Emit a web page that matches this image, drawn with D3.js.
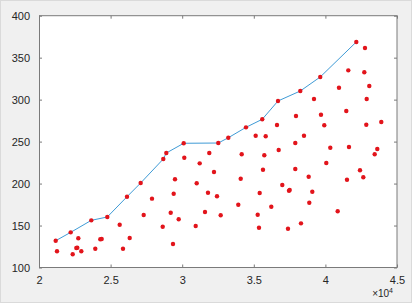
<!DOCTYPE html>
<html>
  <head>
    <meta charset="utf-8">
    <script src="https://d3js.org/d3.v7.min.js"></script>
    <style>
      body { margin: 0; background: #f0f0f0; }
      .tick text { font-family: "Liberation Sans", Arial, sans-serif; font-size: 11px; fill: #262626; }
    </style>
  </head>
  <body>
    <div id="chart"></div>
<script>

// upper envelope (line + dots)
var lineX = [21166, 22214, 23652, 24770, 26145, 27100, 28680, 28890, 30105, 32520,
             33220, 34455, 35590, 36690, 38247, 39640, 42158];
var lineY = [131.9, 141.9, 156.2, 160.2, 184.3, 200.7, 229.3, 236.4, 248.0, 248.3,
             254.6, 267.0, 276.6, 298.4, 310.3, 327.0, 368.7];

// the other scatter points
var dotX = [21257, 22744, 22605, 22675, 22353, 22954, 23931, 24281, 24378, 25635,
            25866, 26334, 27311, 27891, 35132, 35831, 36738, 30146, 31892, 31222,
            34155, 35733, 32220, 29497, 31012, 34085, 35642, 29406, 31801, 32430,
            35411, 33917, 36222, 29197, 29755, 31592, 32688, 35272, 28638, 30943,
            35363, 29357, 36620, 42765, 41599, 42716, 40949, 43065, 39203, 42884,
            37946, 39692, 41459, 39922, 42855, 43903, 38505, 37897, 40342, 41647,
            43624, 43442, 40062, 37897, 38833, 42415, 42646, 41508, 36990, 37458,
            37507, 39085, 38875, 40858, 38295, 37388];
var dotY = [119.3, 134.8, 123.2, 123.6, 115.7, 119.3, 122.4, 133.6, 133.9, 151.0,
            122.4, 135.1, 162.5, 182.0, 257.0, 256.3, 240.0, 230.8, 236.4, 224.1,
            234.9, 233.7, 213.8, 205.1, 200.3, 205.8, 216.5, 187.9, 189.1, 184.8,
            188.7, 174.8, 172.4, 165.3, 157.4, 166.1, 162.2, 162.9, 148.6, 149.4,
            147.4, 128.0, 269.8, 361.5, 334.9, 332.6, 314.2, 316.2, 300.7, 300.7,
            280.5, 282.0, 286.4, 269.4, 270.1, 273.3, 257.0, 248.3, 242.7, 243.6,
            241.2, 234.9, 224.5, 217.3, 208.2, 215.8, 207.5, 204.6, 198.3, 191.5,
            192.3, 190.3, 177.2, 167.0, 152.6, 146.2];

var xTicks = [20000, 25000, 30000, 35000, 40000, 45000];
var xTickLabels = ["2", "2.5", "3", "3.5", "4", "4.5"];
var yTicks = [100, 150, 200, 250, 300, 350, 400];

function drawChart() {
  var width = 412, height = 303;
  var mLeft = 39, mRight = 397, mTop = 15.7, mBottom = 267.5;

  var svg = d3.select("#chart").append("svg")
    .attr("width", width)
    .attr("height", height)
    .style("display", "block");

  svg.append("rect")
    .attr("x", 0.5).attr("y", 0.5)
    .attr("width", width - 1).attr("height", height - 1)
    .attr("fill", "#f0f0f0")
    .attr("stroke", "#dadada");

  var x = d3.scaleLinear().domain([20000, 45000]).range([mLeft, mRight]);
  var y = d3.scaleLinear().domain([100, 400]).range([mBottom, mTop]);

  svg.append("rect")
    .attr("x", mLeft).attr("y", mTop)
    .attr("width", mRight - mLeft).attr("height", mBottom - mTop)
    .attr("fill", "white");

  function styleAxis(g) {
    g.select(".domain").remove();
    g.selectAll(".tick line").attr("stroke", "#7a7a7a");
  }

  // bottom / left with labels, ticks pointing in
  svg.append("g")
    .attr("transform", "translate(0," + mBottom + ")")
    .call(d3.axisBottom(x).tickValues(xTicks).tickSizeInner(-3).tickSizeOuter(0)
      .tickPadding(9).tickFormat(function (d, i) { return xTickLabels[i]; }))
    .call(styleAxis);

  svg.append("g")
    .attr("transform", "translate(" + mLeft + ",0)")
    .call(d3.axisLeft(y).tickValues(yTicks).tickSizeInner(-3).tickSizeOuter(0)
      .tickPadding(9))
    .call(styleAxis);

  // top / right ticks only
  svg.append("g")
    .attr("transform", "translate(0," + mTop + ")")
    .call(d3.axisTop(x).tickValues(xTicks).tickSizeInner(-3).tickSizeOuter(0).tickFormat(""))
    .call(styleAxis);

  svg.append("g")
    .attr("transform", "translate(" + mRight + ",0)")
    .call(d3.axisRight(y).tickValues(yTicks).tickSizeInner(-3).tickSizeOuter(0).tickFormat(""))
    .call(styleAxis);

  svg.append("rect")
    .attr("x", mLeft + 0.5).attr("y", mTop)
    .attr("width", mRight - mLeft - 0.5).attr("height", mBottom - mTop)
    .attr("fill", "none")
    .attr("stroke", "#7a7a7a")
    .attr("stroke-width", 1);

  // exponent label
  var expo = svg.append("text")
    .attr("x", 393).attr("y", 297)
    .attr("text-anchor", "end")
    .style("font-family", "Liberation Sans, Arial, sans-serif")
    .style("font-size", "10px")
    .attr("fill", "#262626");
  expo.append("tspan").text("\u00d710");
  expo.append("tspan").attr("dy", -4).style("font-size", "7px").text("4");

  var linePts = lineX.map(function (d, i) { return [d, lineY[i]]; });
  var dotPts = dotX.map(function (d, i) { return [d, dotY[i]]; });

  svg.append("path")
    .datum(linePts)
    .attr("fill", "none")
    .attr("stroke", "#3f9bd6")
    .attr("stroke-width", 1)
    .attr("d", d3.line().x(function (d) { return x(d[0]); }).y(function (d) { return y(d[1]); }));

  svg.selectAll("circle.pt")
    .data(linePts.concat(dotPts)).enter()
    .append("circle")
    .attr("class", "pt")
    .attr("cx", function (d) { return x(d[0]); })
    .attr("cy", function (d) { return y(d[1]); })
    .attr("r", 2.2)
    .attr("fill", "#e2141b");
}

drawChart();

</script>
  </body>
</html>
